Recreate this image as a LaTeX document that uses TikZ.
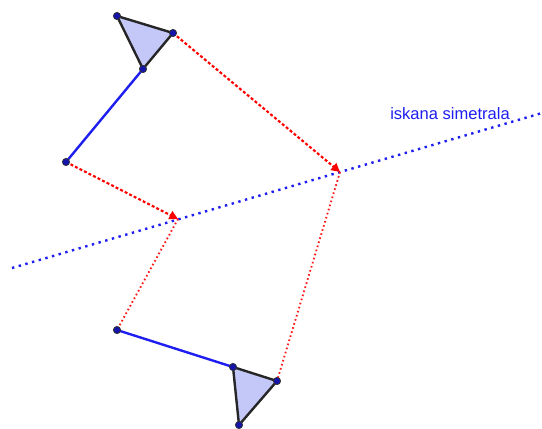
\documentclass[tikz,border=0pt]{standalone}
\usepackage{fontspec}
\setmainfont{Liberation Sans}
\usetikzlibrary{arrows.meta,patterns}
\definecolor{ptblue}{RGB}{20,20,170}
\definecolor{lineblue}{RGB}{30,30,240}
\definecolor{trifill}{RGB}{195,200,248}
\tikzset{
  pt/.style={circle,fill=ptblue,draw=black!80,line width=0.6pt,inner sep=0pt,minimum size=5.4pt},
  seg/.style={lineblue,line width=1.8pt},
  tri/.style={draw=black!85,line width=1.8pt,line join=round,fill=trifill},
  reddash/.style={red,line width=1.6pt,dash pattern=on 2.2pt off 1.6pt,-{Triangle[length=6.5pt,width=6.5pt]}},
  reddot/.style={red!90,line width=1.4pt,dash pattern=on 1.2pt off 2pt},
  symline/.style={lineblue,line width=1.8pt,dash pattern=on 1.8pt off 3.4pt}
}
\begin{document}
\begin{tikzpicture}[x=0.75pt,y=-0.75pt]
\useasboundingbox (0,0) rectangle (542,428);
% points
\coordinate (A1) at (117,16);
\coordinate (B1) at (173,33);
\coordinate (C1) at (143,69);
\coordinate (D1) at (66,162);
\coordinate (A2) at (239,425);
\coordinate (B2) at (277,381);
\coordinate (C2) at (233,367);
\coordinate (D2) at (117,330);
\coordinate (M1) at (340,172);
\coordinate (M2) at (178,219);
\coordinate (L0) at (12,268);
\coordinate (L1) at (542,113);
% symmetry line
\draw[symline] (L0) -- (L1);
\node[anchor=base,text=lineblue,font=\fontsize{12.4pt}{14pt}\selectfont,inner sep=0pt] (lab) at (450,119) {iskana simetrala};
% red constructions
\draw[reddot] (M2) -- (D2);
\draw[reddot] (M1) -- (B2);
\draw[reddash] (B1) -- (M1);
\draw[reddash] (D1) -- (M2);
% blue segments
\draw[seg] (C1) -- (D1);
\draw[seg] (C2) -- (D2);
% triangles
\draw[tri] (A1) -- (B1) -- (C1) -- cycle;
\draw[tri] (C2) -- (B2) -- (A2) -- cycle;
% vertex dots
\foreach \p in {A1,B1,C1,D1,A2,B2,C2,D2}
  \node[pt] (n\p) at (\p) {};
\end{tikzpicture}
\end{document}
